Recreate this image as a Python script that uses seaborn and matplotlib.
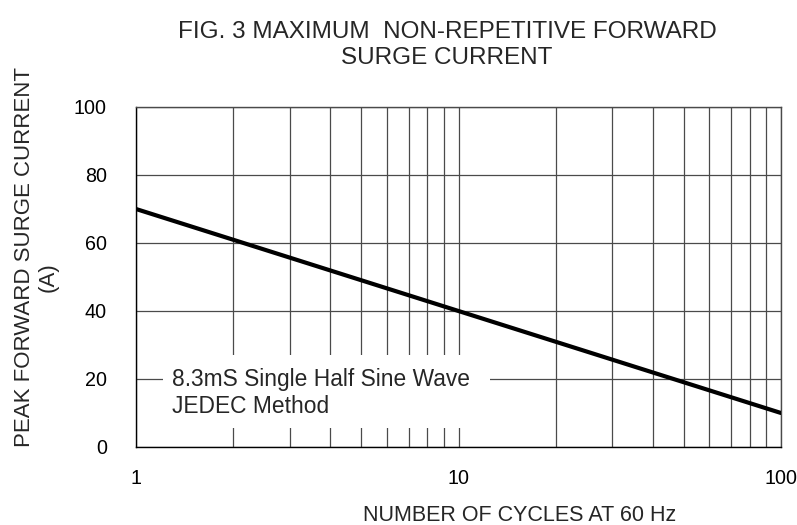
import numpy as np
import matplotlib
matplotlib.use("Agg")
import matplotlib.pyplot as plt
import seaborn as sns
from matplotlib.patches import Rectangle
from matplotlib.ticker import FixedLocator, NullFormatter

# data (log x, linear y)
cycles = [1, 10, 100]
surge_current = [70, 40, 10]
y_ticks = [0, 20, 40, 60, 80, 100]
x_ticks = [1, 10, 100]
x_minor = [2, 3, 4, 5, 6, 7, 8, 9, 20, 30, 40, 50, 60, 70, 80, 90]

sns.set_style("white")
plt.rcParams['font.family'] = ['Liberation Sans', 'DejaVu Sans']

fig = plt.figure(figsize=(7.97, 5.25), dpi=100)
ax = fig.add_axes([136 / 797, 1 - 447 / 525, 645 / 797, 340 / 525])

sns.lineplot(x=cycles, y=surge_current, ax=ax, color='black', linewidth=3.0, zorder=3)

ax.set_xscale('log')
ax.set_xlim(1, 100)
ax.set_ylim(0, 100)
ax.xaxis.set_major_locator(FixedLocator(x_ticks))
ax.xaxis.set_minor_locator(FixedLocator(x_minor))
ax.xaxis.set_minor_formatter(NullFormatter())
ax.set_xticklabels([str(v) for v in x_ticks])
ax.set_yticks(y_ticks)

ax.grid(True, which='both', axis='x', color='#4a4a4a', linewidth=0.9)
ax.grid(True, which='major', axis='y', color='#4a4a4a', linewidth=0.9)
ax.tick_params(axis='both', which='both', length=0, labelsize=14.2, colors='black')
ax.tick_params(axis='y', pad=21)
ax.tick_params(axis='x', pad=16)

for s in ax.spines.values():
    s.set_color('black')
    s.set_linewidth(1.0)
ax.spines['right'].set_color('#4a4a4a')
ax.spines['top'].set_color('#4a4a4a')

# white label box that hides the grid behind the note
ax.add_patch(Rectangle((1.21, 5.6), 12.53 - 1.21, 27.1 - 5.6, facecolor='white',
                       edgecolor='none', zorder=2))
ax.text(1.293, 10.0, '8.3mS Single Half Sine Wave\nJEDEC Method', fontsize=16.4,
        va='baseline', ha='left', linespacing=1.2, zorder=4)

ax.set_xlabel('NUMBER OF CYCLES AT 60 Hz', fontsize=15.5)
ax.xaxis.set_label_coords(0.594, -0.172)

# y label: first line sits higher than the unit line in the original
ax.set_ylabel('PEAK FORWARD SURGE CURRENT', fontsize=16, va='center')
ax.yaxis.set_label_coords(-0.1736, 0.56)
ax.text(-0.1364, 0.5, '(A)', transform=ax.transAxes, rotation=90, fontsize=16,
        ha='center', va='center')

fig.text(447 / 797, 1 - 64 / 525, 'FIG. 3 MAXIMUM  NON-REPETITIVE FORWARD\nSURGE CURRENT',
         ha='center', va='baseline', fontsize=17.5, linespacing=1.26)

fig.savefig('out.png', dpi=100)
